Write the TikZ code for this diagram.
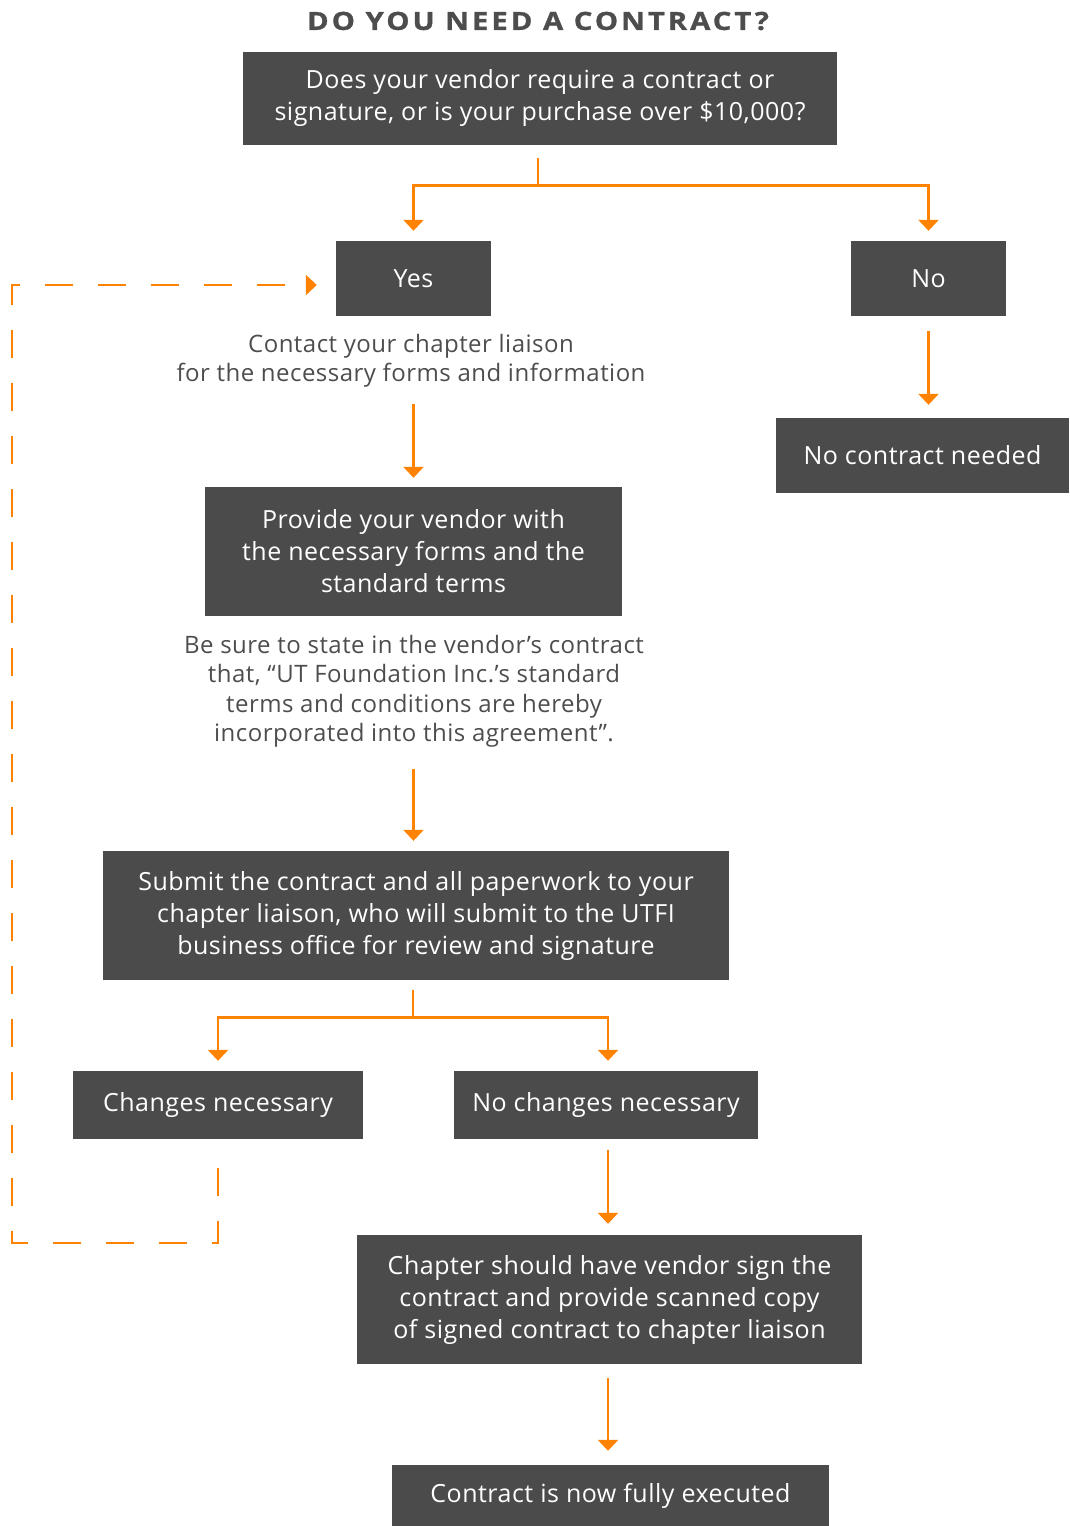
\documentclass[tikz,border=0pt]{standalone}
\usepackage{fontspec}
\setmainfont{Open Sans}
\usetikzlibrary{arrows.meta}
\definecolor{utorange}{HTML}{FF8200}
\definecolor{boxgray}{HTML}{4B4B4B}
\definecolor{textgray}{HTML}{4D4D4D}

\begin{document}
\begin{tikzpicture}[x=1pt,y=1pt,
		box/.style={fill=boxgray,text=white,align=center,inner sep=0pt,font=\fontsize{25}{32}\selectfont\addfontfeatures{LetterSpace=2}},
		note/.style={text=textgray,align=center,inner sep=0pt,font=\fontsize{24}{29.5}\selectfont\addfontfeatures{LetterSpace=2}},
		link/.style={draw=utorange,line width=2.6pt},
		arrow/.style={link,-{Triangle[width=20pt,length=11pt]}},
		loopback/.style={arrow,dash pattern=on 28pt off 25pt}]
		\useasboundingbox (0,0) rectangle (1069,-1526);
		\node[text=textgray,font=\bfseries\fontsize{25}{30}\selectfont\addfontfeatures{FakeStretch=1.17,FakeBold=1.2,LetterSpace=12}] (title) at (538,-21) {DO YOU NEED A CONTRACT?};
		\node[box,minimum width=594pt,minimum height=93pt,yshift=-1pt] (ask) at (540,-97.5) {Does your vendor require a contract or\\signature, or is your purchase over \$10,000?};
		\node[box,minimum width=155pt,minimum height=75pt] (yes) at (413.5,-278.5) {Yes};
		\node[box,minimum width=155pt,minimum height=75pt] (no) at (928.5,-278.5) {No};
		\node[box,minimum width=293pt,minimum height=75pt] (nocontract) at (922.5,-455.5) {No contract needed};
		\node[note] (contact) at (411,-361) {Contact your chapter liaison\\for the necessary forms and information};
		\node[box,minimum width=417pt,minimum height=129pt] (provide) at (413.5,-551.5) {Provide your vendor with\\the necessary forms and the\\standard terms};
		\node[note] (besure) at (414,-691.5) {Be sure to state in the vendor’s contract\\that, “UT Foundation Inc.’s standard\\terms and conditions are hereby\\incorporated into this agreement”.};
		\node[box,minimum width=626pt,minimum height=129pt] (submit) at (416,-915.5) {Submit the contract and all paperwork to your\\chapter liaison, who will submit to the UTFI\\business office for review and signature};
		\node[box,minimum width=290pt,minimum height=68pt] (changes) at (218,-1105) {Changes necessary};
		\node[box,minimum width=304pt,minimum height=68pt] (nochanges) at (606,-1105) {No changes necessary};
		\node[box,minimum width=505pt,minimum height=129pt] (signed) at (609.5,-1299.5) {Chapter should have vendor sign the\\contract and provide scanned copy\\of signed contract to chapter liaison};
		\node[box,minimum width=437pt,minimum height=61pt] (executed) at (610.5,-1495.5) {Contract is now fully executed};

		\draw[link] (ask.south) ++(-2,-13) -- ++(0,-27) coordinate (split1);
		\draw[arrow] (split1) -| ([yshift=10pt]yes.north);
		\draw[arrow] (split1) -| ([yshift=10pt]no.north);
		\draw[arrow,shorten <=15pt,shorten >=13pt] (no.south) -- (no.south |- nocontract.north);
		\draw[arrow,shorten <=16pt,shorten >=9pt] (provide.north |- contact.south) -- (provide.north);
		\draw[arrow,shorten <=21pt,shorten >=10pt] (provide.south |- besure.south) -- (provide.south |- submit.north);
		\draw[link] (submit.south) ++(-3,-10) -- ++(0,-27) coordinate (split2);
		\draw[arrow] (split2) -| ([yshift=10pt]changes.north);
		\draw[arrow] (split2) -| ([xshift=2pt,yshift=10pt]nochanges.north);
		\draw[arrow,shorten <=11pt,shorten >=11pt] ([xshift=2pt]nochanges.south) -- ([xshift=2pt]nochanges.south |- signed.north);
		\draw[arrow,shorten <=14pt,shorten >=14pt] ([xshift=-1.5pt]signed.south) -- ([xshift=-1.5pt]signed.south |- executed.north);
		\coordinate (corner) at (12,-1243);
		\draw[loopback] (changes.south) ++(0,-29) |- (corner) |- ([xshift=-19pt,yshift=-6.5pt]yes.west);
	\end{tikzpicture}
\end{document}
